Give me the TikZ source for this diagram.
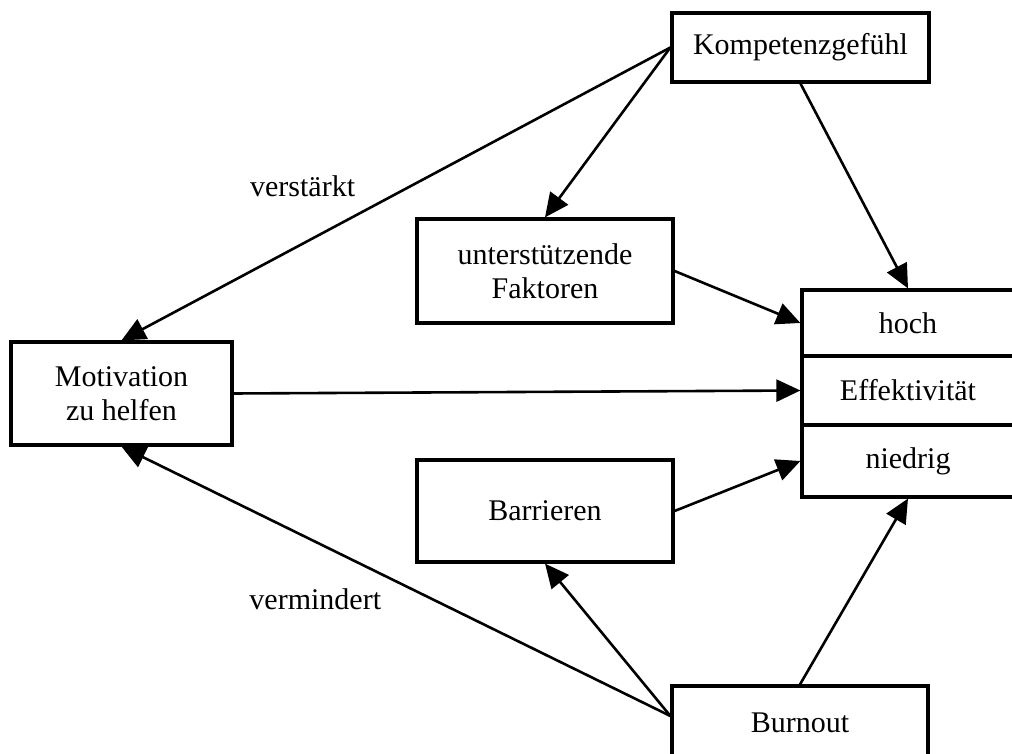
\documentclass[tikz,border=0pt]{standalone}
\usepackage{fontspec}
\setmainfont{Liberation Serif}
\usetikzlibrary{arrows.meta}

\begin{document}
\begin{tikzpicture}
\tikzset{
block/.style={rectangle,draw=black,line width=1.6pt,inner sep=0pt,minimum width=128pt,minimum height=52pt,
align=center,font=\fontsize{15}{17}\selectfont},
cell/.style={block,minimum width=106pt,minimum height=34.5pt},
myarrow/.style={->, >={Triangle[length=12pt,width=11pt]}, line width=1.3pt},
mylabel/.style={font=\fontsize{15}{17}\selectfont, inner sep=0pt},
}
\useasboundingbox (-60.75pt,-180.25pt) rectangle (445.25pt,196.75pt);
\clip (-60.75pt,-180.25pt) rectangle (445.25pt,196.75pt);

\node [block, minimum width=110.5pt, minimum height=51.5pt] (motiv) {Motivation\\zu helfen};
\node [cell, node distance=393.25pt, right of=motiv, yshift=1.5pt] (effekt) {Effektivität};
\node [cell, node distance=33.75pt, above of=effekt, minimum height=33pt] (hoch) {hoch};
\node [cell, node distance=35.25pt, below of=effekt, minimum height=36pt] (niedrig) {niedrig};
\node [block, node distance=211.75pt, right of=motiv, yshift=61.25pt] (faktoren) {unterstützende\\Faktoren};
\node [block, node distance=211.75pt, right of=motiv, yshift=-58.75pt, minimum height=51pt] (barrieren) {Barrieren};
\node [block, node distance=137.75pt, above of=hoch, xshift=-53.75pt, minimum width=128.5pt, minimum height=34.5pt] (kompetenz) {Kompetenzgefühl};
\node [block, node distance=131pt, below of=niedrig, xshift=-54pt, minimum height=37pt] (burnout) {Burnout};

\draw[myarrow] (kompetenz.west) -- node[mylabel, pos=0.67, yshift=28.5pt] (verstaerkt) {verstärkt} (motiv.north);
\draw[myarrow] (kompetenz.west) -- (faktoren.north);
\draw[myarrow] (kompetenz.south) -- (hoch.north);
\draw[myarrow] (faktoren.east) -- (hoch.west);
\draw[myarrow] (motiv.east) -- (effekt.west);
\draw[myarrow] (barrieren.east) -- (niedrig.west);
\draw[myarrow] (burnout.north) -- (niedrig.south);
\draw[myarrow] ([yshift=3.5pt]burnout.west) -- (barrieren.south);
\draw[myarrow] ([yshift=3.5pt]burnout.west) -- node[mylabel, pos=0.647, yshift=-29pt] (vermindert) {vermindert} (motiv.south);
\end{tikzpicture}
\end{document}
